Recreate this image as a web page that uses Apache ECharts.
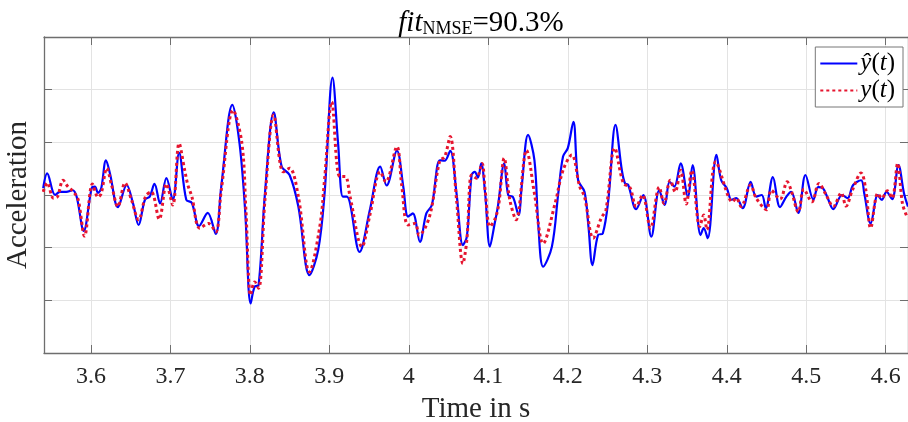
<!DOCTYPE html>
<html>
<head>
<meta charset="utf-8">
<script src="https://cdn.jsdelivr.net/npm/echarts@6/dist/echarts.min.js"></script>
<style>
html,body{margin:0;padding:0;background:#fff;}
#chart{width:908px;height:422px;}
</style>
</head>
<body>
<div id="chart"></div>
<script>
// ---- data (time in s, acceleration in arbitrary units) ----
const tBlue = [3.540,3.545,3.555,3.561,3.569,3.577,3.582,3.591,3.601,3.605,3.609,3.613,3.619,3.624,3.634,3.645,3.653,3.660,3.668,3.674,3.680,3.687,3.695,3.703,3.711,3.720,3.727,3.736,3.747,3.757,3.764,3.778,3.787,3.794,3.801,3.806,3.811,3.819,3.830,3.840,3.850,3.861,3.875,3.886,3.894,3.904,3.911,3.917,3.922,3.938,3.951,3.964,3.972,3.985,3.993,3.999,4.005,4.014,4.022,4.029,4.039,4.045,4.052,4.060,4.068,4.073,4.079,4.083,4.087,4.091,4.096,4.102,4.108,4.112,4.120,4.125,4.131,4.138,4.142,4.150,4.158,4.163,4.169,4.180,4.188,4.194,4.200,4.207,4.213,4.221,4.226,4.231,4.238,4.244,4.251,4.260,4.268,4.272,4.276,4.286,4.295,4.305,4.315,4.322,4.328,4.334,4.342,4.351,4.357,4.367,4.371,4.376,4.387,4.393,4.400,4.406,4.412,4.420,4.430,4.437,4.444,4.449,4.458,4.467,4.475,4.481,4.490,4.499,4.509,4.515,4.521,4.527,4.534,4.545,4.552,4.559,4.569,4.573,4.581,4.590,4.595,4.601,4.608,4.616,4.623,4.628];
const yHat = [0.13,0.41,0.00,0.06,0.06,0.09,-0.03,-0.68,0.13,0.16,0.04,0.13,0.66,0.41,-0.23,0.19,-0.16,-0.57,-0.09,-0.03,0.21,-0.16,0.32,-0.09,0.80,-0.09,-0.15,-0.59,-0.34,-0.74,0.16,1.71,0.98,-0.28,-2.06,-1.74,-1.71,0.03,1.57,0.54,0.38,-0.22,-1.52,-1.04,0.03,2.23,0.98,-0.03,-0.03,-1.08,-0.28,0.54,0.18,0.84,0.16,-0.41,-0.35,-0.89,-0.35,-0.19,0.66,0.65,0.84,0.03,-0.95,-0.79,0.38,0.44,0.33,0.60,0.03,-0.98,-0.54,-0.22,0.60,0.00,-0.04,-0.38,0.16,1.14,0.66,-0.60,-1.36,-0.98,0.03,0.73,0.89,1.39,0.28,0.06,-0.60,-1.33,-0.76,-0.73,-0.09,1.33,0.47,0.22,0.19,-0.27,0.00,-0.79,0.09,-0.19,0.25,0.16,0.60,-0.03,0.57,-0.76,-0.63,-0.82,0.76,0.28,0.13,-0.09,-0.06,-0.25,0.25,-0.03,0.00,-0.25,0.34,-0.23,-0.03,0.06,-0.34,0.38,-0.09,0.15,0.13,-0.06,-0.27,0.00,-0.06,0.19,0.28,0.03,-0.54,0.00,-0.09,0.06,-0.08,0.57,0.03,-0.22];

const tRed = [3.540,3.545,3.553,3.558,3.565,3.571,3.578,3.584,3.592,3.602,3.609,3.613,3.620,3.626,3.634,3.643,3.651,3.660,3.669,3.676,3.686,3.695,3.703,3.711,3.718,3.722,3.727,3.737,3.748,3.757,3.764,3.779,3.790,3.795,3.801,3.806,3.811,3.819,3.830,3.842,3.850,3.861,3.875,3.888,3.894,3.903,3.913,3.920,3.926,3.941,3.951,3.964,3.971,3.985,3.991,3.999,4.008,4.013,4.026,4.039,4.045,4.052,4.060,4.068,4.073,4.079,4.085,4.092,4.096,4.102,4.108,4.113,4.120,4.127,4.135,4.148,4.158,4.169,4.184,4.194,4.205,4.215,4.221,4.232,4.242,4.248,4.259,4.270,4.278,4.286,4.294,4.304,4.315,4.321,4.329,4.335,4.342,4.349,4.356,4.366,4.371,4.375,4.386,4.402,4.407,4.412,4.418,4.430,4.437,4.450,4.456,4.467,4.476,4.481,4.490,4.497,4.507,4.516,4.525,4.534,4.544,4.550,4.558,4.569,4.575,4.581,4.590,4.595,4.602,4.608,4.615,4.621,4.627];
const yMeas = [0.06,0.23,-0.06,-0.03,0.28,0.16,0.06,-0.09,-0.78,0.21,-0.04,0.03,0.51,0.19,-0.22,0.23,-0.09,-0.47,-0.02,0.06,-0.46,0.21,-0.19,0.98,0.47,0.19,-0.03,-0.63,-0.54,-0.70,0.09,1.61,0.98,-0.28,-1.90,-1.65,-1.77,-0.09,1.52,0.44,0.51,-0.03,-1.46,-0.60,0.30,1.77,0.35,0.35,-0.03,-0.98,-0.38,0.44,0.25,0.92,0.19,-0.57,-0.54,-0.76,-0.41,0.66,0.72,1.11,-0.09,-1.30,-0.85,0.38,0.32,0.60,0.09,-0.60,-0.47,-0.19,0.70,-0.09,-0.47,0.85,0.03,-0.92,-0.16,0.47,0.76,0.16,-0.03,-0.82,-0.44,-0.28,0.89,0.22,0.15,-0.22,0.00,-0.63,0.15,-0.16,0.28,0.06,0.47,-0.17,0.47,-0.60,-0.38,-0.66,0.63,-0.03,-0.13,-0.06,-0.22,0.19,-0.06,-0.28,0.09,-0.08,0.25,0.09,-0.32,0.11,-0.13,0.22,0.00,-0.22,0.04,-0.21,0.09,0.42,0.09,-0.63,0.03,-0.06,0.08,-0.06,0.60,-0.16,-0.42];

const xMin = 3.541, xMax = 4.628;
const yMin = -3, yMax = 3, yStep = 1;
const seriesNames = ['yhat', 'y'];
const titleParts = ['fit', 'NMSE', '=90.3%'];
const xName = 'Time in s';
const yName = 'Acceleration';

// ---- chart ----
const serif = '"Liberation Serif", "DejaVu Serif", serif';
const axisCol = '#6e6e6e';
const gridCol = '#e3e3e3';
const chart = echarts.init(document.getElementById('chart'), null, {renderer: 'canvas'});
const pair = (ts, vs) => ts.map((t, i) => [t, vs[i]]);
const xLabel = v => {
  const r = Math.round(v * 10) / 10;
  return Math.abs(v - r) < 1e-6 ? String(r) : '';
};
const xCommon = {
  type: 'value', min: xMin, max: xMax, splitNumber: 10, minInterval: 0.1, maxInterval: 0.1
};
const yCommon = {type: 'value', min: yMin, max: yMax, interval: yStep};

chart.setOption({
  animation: false,
  backgroundColor: '#ffffff',
  title: {
    text: '{i|' + titleParts[0] + '}{s|' + titleParts[1] + '}{n|' + titleParts[2] + '}',
    left: 476, textAlign: 'center', top: 3,
    textStyle: {
      fontWeight: 'normal',
      rich: {
        i: {fontFamily: serif, fontStyle: 'italic', fontWeight: 'normal', fontSize: 29, color: '#000', lineHeight: 30, verticalAlign: 'bottom'},
        s: {fontFamily: serif, fontWeight: 'normal', fontSize: 18, color: '#000', lineHeight: 14, verticalAlign: 'bottom'},
        n: {fontFamily: serif, fontWeight: 'normal', fontSize: 29, color: '#000', lineHeight: 30, verticalAlign: 'bottom'}
      }
    }
  },
  grid: {left: 44, right: 0, top: 37, bottom: 69, containLabel: false, outerBoundsMode: 'none'},
  legend: {
    orient: 'vertical', right: 5, top: 47,
    padding: [4, 8, 4, 4],
    backgroundColor: '#fff', borderColor: '#777', borderWidth: 1,
    itemWidth: 37, itemHeight: 14, itemGap: 2,
    itemStyle: {opacity: 0},
    data: seriesNames,
    formatter: n => n === 'yhat' ? '{m|ŷ}{n|(}{m|t}{n|)}' : '{m|y}{n|(}{m|t}{n|)}',
    textStyle: {
      padding: [0, 0, 0, -2],
      rich: {
        m: {fontFamily: serif, fontStyle: 'italic', fontSize: 25, color: '#000', lineHeight: 26},
        n: {fontFamily: serif, fontSize: 25, color: '#000', lineHeight: 26}
      }
    }
  },
  xAxis: [
    Object.assign({}, xCommon, {
      position: 'bottom',
      name: xName, nameLocation: 'middle', nameGap: 42,
      nameTextStyle: {fontFamily: serif, fontSize: 29, color: '#262626'},
      axisLine: {onZero: false, lineStyle: {color: axisCol, width: 1.3}},
      axisTick: {inside: true, length: 8, lineStyle: {color: axisCol, width: 1}},
      axisLabel: {formatter: xLabel, margin: 12, fontFamily: serif, fontSize: 24, color: '#262626', showMinLabel: true, showMaxLabel: true},
      splitLine: {show: true, lineStyle: {color: gridCol, width: 1}}
    }),
    Object.assign({}, xCommon, {
      position: 'top',
      axisLine: {onZero: false, lineStyle: {color: axisCol, width: 1.3}},
      axisTick: {inside: true, length: 8, lineStyle: {color: axisCol, width: 1}},
      axisLabel: {show: false},
      splitLine: {show: false}
    })
  ],
  yAxis: [
    Object.assign({}, yCommon, {
      position: 'left',
      name: yName, nameLocation: 'middle', nameGap: 11, nameRotate: 90,
      nameTextStyle: {fontFamily: serif, fontSize: 29, color: '#262626'},
      axisLine: {show: true, onZero: false, lineStyle: {color: axisCol, width: 1.3}},
      axisTick: {show: true, inside: true, length: 8, lineStyle: {color: axisCol, width: 1}},
      axisLabel: {show: false},
      splitLine: {show: true, lineStyle: {color: gridCol, width: 1}}
    }),
    Object.assign({}, yCommon, {
      position: 'right',
      axisLine: {show: true, onZero: false, lineStyle: {color: axisCol, width: 1.3}},
      axisTick: {show: true, inside: true, length: 8, lineStyle: {color: axisCol, width: 1}},
      axisLabel: {show: false},
      splitLine: {show: false}
    })
  ],
  series: [
    {
      name: seriesNames[0], type: 'line', xAxisIndex: 0, yAxisIndex: 0,
      data: pair(tBlue, yHat), showSymbol: false, symbol: 'none', smooth: 0.35,
      lineStyle: {color: '#0000ff', width: 2.2}, itemStyle: {color: '#0000ff'},
      z: 2
    },
    {
      name: seriesNames[1], type: 'line', xAxisIndex: 0, yAxisIndex: 0,
      data: pair(tRed, yMeas), showSymbol: false, symbol: 'none', smooth: 0.35,
      lineStyle: {color: '#e6152f', width: 3, type: [3, 3]}, itemStyle: {color: '#e6152f'},
      z: 3
    }
  ]
});
</script>
</body>
</html>
